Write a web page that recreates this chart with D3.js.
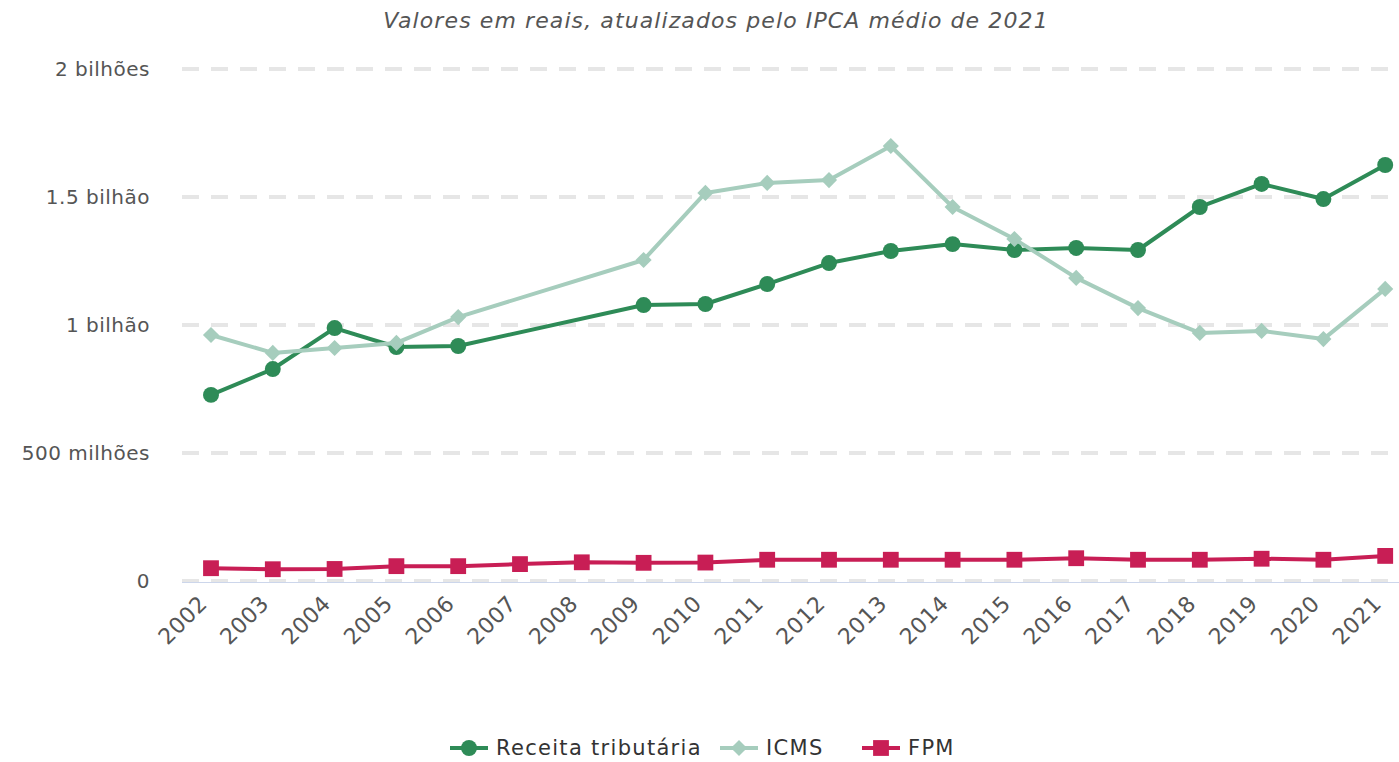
<!DOCTYPE html>
<html>
<head>
<meta charset="utf-8">
<script src="https://cdn.jsdelivr.net/npm/d3@7"></script>
<style>
  html, body { margin: 0; padding: 0; background: #fff; }
  svg { display: block; font-family: "DejaVu Sans", sans-serif; }
</style>
</head>
<body>
<svg id="chart" width="1399" height="762"></svg>
<script>
const years = ["2002","2003","2004","2005","2006","2007","2008","2009","2010","2011",
               "2012","2013","2014","2015","2016","2017","2018","2019","2020","2021"];
// values in billions of reais (null = no data)
const receitaTributaria = [0.727, 0.828, 0.988, 0.914, 0.918, null, null, 1.078, 1.082, 1.160,
                           1.242, 1.289, 1.316, 1.293, 1.301, 1.293, 1.461, 1.551, 1.492, 1.625];
const icms = [0.961, 0.891, 0.910, 0.930, 1.031, null, null, 1.254, 1.516, 1.555,
              1.566, 1.699, 1.461, 1.336, 1.184, 1.066, 0.969, 0.977, 0.945, 1.141];
const fpm = [0.050, 0.046, 0.047, 0.058, 0.058, 0.066, 0.073, 0.071, 0.072, 0.083,
             0.083, 0.083, 0.083, 0.083, 0.089, 0.083, 0.083, 0.087, 0.083, 0.098];
const yTicks = [0, 0.5, 1, 1.5, 2];
const yTickLabels = ["0", "500 milhões", "1 bilhão", "1.5 bilhão", "2 bilhões"];
const subtitle = "Valores em reais, atualizados pelo IPCA médio de 2021";

const series = [
  { name: "Receita tributária", values: receitaTributaria, color: "#2e8b57", symbol: "circle" },
  { name: "ICMS", values: icms, color: "#a6cdbd", symbol: "diamond" },
  { name: "FPM", values: fpm, color: "#c81e55", symbol: "square" }
];

const svg = d3.select("#chart");
const plotLeft = 182, plotRight = 1399, plotTop = 69, plotBottom = 581;
const bandStep = 61.8;

const x = d3.scalePoint().domain(years).range([211, 211 + bandStep * 19]);
const y = d3.scaleLinear().domain([0, 2]).range([plotBottom, plotTop]);

// subtitle
svg.append("text")
  .attr("x", 716).attr("y", 28)
  .attr("text-anchor", "middle")
  .attr("font-size", 22).attr("font-style", "italic")
  .attr("letter-spacing", 1.1)
  .attr("fill", "#555")
  .text(subtitle);

// grid lines
const grid = svg.append("g");
grid.selectAll("line").data(yTicks).join("line")
  .attr("x1", plotLeft).attr("x2", plotRight)
  .attr("y1", d => y(d)).attr("y2", d => y(d))
  .attr("stroke", "#e6e6e6").attr("stroke-width", 4)
  .attr("stroke-dasharray", "17,12");

// y labels
const yAxis = d3.axisLeft(y).tickValues(yTicks)
  .tickFormat((d, i) => yTickLabels[i]).tickSize(0).tickPadding(0);
svg.append("g").attr("transform", "translate(150,0)").call(yAxis)
  .call(g => g.select(".domain").remove())
  .call(g => g.selectAll("text").attr("font-size", 20).attr("fill", "#555")
    .attr("letter-spacing", 0.5)
    .attr("font-family", "DejaVu Sans, sans-serif"));

// x axis line
svg.append("line")
  .attr("x1", plotLeft).attr("x2", plotRight)
  .attr("y1", plotBottom + 1.5).attr("y2", plotBottom + 1.5)
  .attr("stroke", "#ccd6eb").attr("stroke-width", 1);

// x labels
const xAxis = d3.axisBottom(x).tickSize(0).tickPadding(0);
svg.append("g").attr("transform", `translate(0,${plotBottom})`).call(xAxis)
  .call(g => g.select(".domain").remove())
  .call(g => g.selectAll("text")
    .attr("font-size", 22).attr("fill", "#555")
    .attr("font-family", "DejaVu Sans, sans-serif")
    .attr("letter-spacing", 0.5)
    .attr("text-anchor", "end")
    .attr("dy", 0)
    .attr("transform", "translate(-3,24) rotate(-45)"));

// lines and markers
const line = d3.line()
  .defined(d => d.v !== null)
  .x(d => x(d.year)).y(d => y(d.v));

const symbolSizes = { circle: 200, diamond: 130, square: 250 };
const symbolTypes = { circle: d3.symbolCircle, diamond: d3.symbolSquare, square: d3.symbolSquare };
const symbolRot = { circle: 0, diamond: 45, square: 0 };

series.forEach(s => {
  const pts = years.map((yr, i) => ({ year: yr, v: s.values[i] })).filter(d => d.v !== null);
  const g = svg.append("g");
  g.append("path").datum(pts)
    .attr("d", line)
    .attr("fill", "none").attr("stroke", s.color).attr("stroke-width", 4)
    .attr("stroke-linejoin", "round").attr("stroke-linecap", "round");
  g.selectAll("path.mk").data(pts).join("path").attr("class", "mk")
    .attr("d", d3.symbol().type(symbolTypes[s.symbol]).size(symbolSizes[s.symbol]))
    .attr("transform", d => `translate(${x(d.year)},${y(d.v)}) rotate(${symbolRot[s.symbol]})`)
    .attr("fill", s.color);
});

// legend
const legendItems = [
  { s: series[0], x: 450 },
  { s: series[1], x: 720 },
  { s: series[2], x: 862 }
];
const legendY = 748;
legendItems.forEach(it => {
  const g = svg.append("g").attr("transform", `translate(${it.x},${legendY})`);
  g.append("line").attr("x1", 0).attr("x2", 38).attr("y1", 0).attr("y2", 0)
    .attr("stroke", it.s.color).attr("stroke-width", 4);
  g.append("path")
    .attr("d", d3.symbol().type(symbolTypes[it.s.symbol]).size(symbolSizes[it.s.symbol]))
    .attr("transform", `translate(19,0) rotate(${symbolRot[it.s.symbol]})`).attr("fill", it.s.color);
  g.append("text").attr("x", 46).attr("y", 0).attr("dy", "0.35em")
    .attr("font-size", 21).attr("letter-spacing", 1.3).attr("fill", "#333")
    .text(it.s.name);
});
</script>
</body>
</html>
